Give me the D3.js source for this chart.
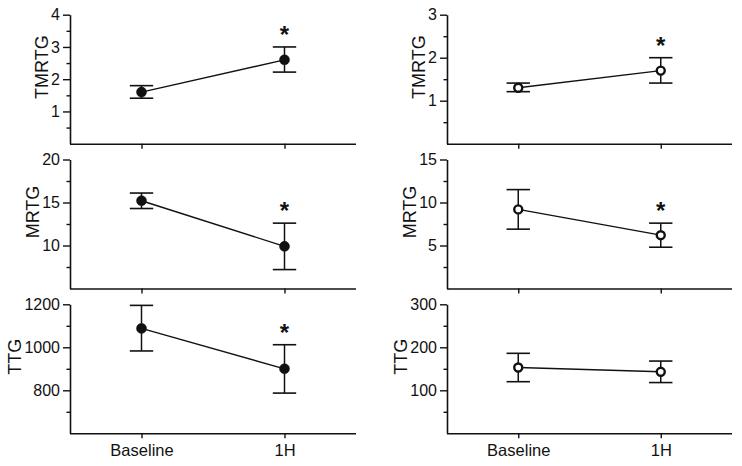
<!DOCTYPE html>
<html>
<head>
<meta charset="utf-8">
<script src="https://cdn.jsdelivr.net/npm/d3@7"></script>
<style>
  html, body { margin: 0; padding: 0; background: #fff; }
  svg { display: block; font-family: Arial, "Liberation Sans", sans-serif; }
</style>
</head>
<body>
<svg id="chart" width="742" height="466"></svg>
<script>
// ---------------- data ----------------
const categories = ["Baseline", "1H"];
const metrics = ["TMRTG", "MRTG", "TTG"];

// left column (filled markers)
const leftMean = [[1.6, 2.6], [15.2, 9.9], [1088, 900]];
const leftLow  = [[1.41, 2.22], [14.3, 7.2], [983, 787]];
const leftHigh = [[1.80, 3.0], [16.1, 12.6], [1195, 1012]];
const leftSig  = [[false, true], [false, true], [false, true]];
const leftDomain = [[0, 4], [5, 20], [600, 1200]];
const leftTicks  = [[1, 2, 3, 4], [10, 15, 20], [800, 1000, 1200]];
const leftMinor  = [[0.5, 1.5, 2.5, 3.5], [7.5, 12.5, 17.5], [700, 900, 1100]];

// right column (open markers)
const rightMean = [[1.3, 1.7], [9.2, 6.2], [153, 143]];
const rightLow  = [[1.21, 1.41], [6.9, 4.8], [120, 118]];
const rightHigh = [[1.41, 2.0], [11.5, 7.6], [186, 168]];
const rightSig  = [[false, true], [false, true], [false, false]];
const rightDomain = [[0, 3], [0, 15], [0, 300]];
const rightTicks  = [[1, 2, 3], [5, 10, 15], [100, 200, 300]];
const rightMinor  = [[0.5, 1.5, 2.5], [2.5, 7.5, 12.5], [50, 150, 250]];

// ---------------- layout ----------------
const svg = d3.select("#chart");
const colX = [[70, 356], [447, 732]];
const rowTop = [14.7, 159.5, 304.3];
const rowH = 129;
const ink = "#111";
const fontFam = "Arial, 'Liberation Sans', sans-serif";

const columns = [
  {mean: leftMean, low: leftLow, high: leftHigh, sig: leftSig, domain: leftDomain, ticks: leftTicks, minor: leftMinor, filled: true},
  {mean: rightMean, low: rightLow, high: rightHigh, sig: rightSig, domain: rightDomain, ticks: rightTicks, minor: rightMinor, filled: false}
];

columns.forEach((col, ci) => {
  const [x0, x1] = colX[ci];
  const x = d3.scalePoint().domain(categories).range([x0, x1]).padding(0.5);
  metrics.forEach((m, ri) => {
    const yTop = rowTop[ri], yBot = yTop + rowH;
    const y = d3.scaleLinear().domain(col.domain[ri]).range([yBot, yTop]);
    const g = svg.append("g");

    // minor y ticks
    g.append("g").attr("transform", `translate(${x0},0)`)
      .call(d3.axisLeft(y).tickValues(col.minor[ri]).tickSize(3.5).tickFormat(""))
      .call(s => s.select(".domain").remove())
      .call(s => s.selectAll("line").attr("stroke", ink).attr("stroke-width", 1.4));

    // major y axis
    const ya = g.append("g").attr("transform", `translate(${x0},0)`)
      .call(d3.axisLeft(y).tickValues(col.ticks[ri]).tickFormat(d3.format("d"))
        .tickSize(7).tickPadding(3).tickSizeOuter(0));
    ya.select(".domain").attr("stroke", ink).attr("stroke-width", 1.6);
    ya.selectAll("line").attr("stroke", ink).attr("stroke-width", 1.4);
    ya.selectAll("text").attr("fill", ink).style("font-size", "16px")
      .style("font-family", fontFam);

    // left edge of the tick labels (title sits just left of them)
    let minX = 0;
    ya.selectAll("text").each(function () {
      minX = Math.min(minX, this.getBBox().x);
    });

    // x axis
    const xa = g.append("g").attr("transform", `translate(0,${yBot})`)
      .call(d3.axisBottom(x).tickSize(5).tickSizeOuter(0).tickPadding(6));
    xa.select(".domain").attr("stroke", ink).attr("stroke-width", 1.6)
      .attr("d", `M${x0},0.5H${x1}`);
    xa.selectAll("line").attr("stroke", ink).attr("stroke-width", 1.4);
    if (ri === metrics.length - 1) {
      xa.selectAll("text").attr("fill", ink).style("font-size", "16.5px")
        .style("font-family", fontFam);
    } else {
      xa.selectAll("text").remove();
    }

    // y title
    g.append("text")
      .attr("transform", `translate(${x0 + minX - 3},${(yTop + yBot) / 2 - 12}) rotate(-90)`)
      .attr("text-anchor", "middle")
      .attr("fill", ink)
      .style("font-size", "18px")
      .style("font-family", fontFam)
      .text(m);

    const pts = categories.map((c, i) => ({
      c, mean: col.mean[ri][i], low: col.low[ri][i], high: col.high[ri][i], sig: col.sig[ri][i]
    }));

    // connecting line
    g.append("path")
      .datum(pts)
      .attr("fill", "none").attr("stroke", ink).attr("stroke-width", 1.4)
      .attr("d", d3.line().x(d => x(d.c)).y(d => y(d.mean)));

    // error bars
    const cap = 11.7;
    const eb = g.selectAll(".eb").data(pts).enter().append("g");
    eb.append("line")
      .attr("x1", d => x(d.c)).attr("x2", d => x(d.c))
      .attr("y1", d => y(d.low)).attr("y2", d => y(d.high))
      .attr("stroke", ink).attr("stroke-width", 1.5);
    eb.append("line")
      .attr("x1", d => x(d.c) - cap).attr("x2", d => x(d.c) + cap)
      .attr("y1", d => y(d.high)).attr("y2", d => y(d.high))
      .attr("stroke", ink).attr("stroke-width", 1.6);
    eb.append("line")
      .attr("x1", d => x(d.c) - cap).attr("x2", d => x(d.c) + cap)
      .attr("y1", d => y(d.low)).attr("y2", d => y(d.low))
      .attr("stroke", ink).attr("stroke-width", 1.6);

    // markers
    g.selectAll(".pt").data(pts).enter().append("circle")
      .attr("cx", d => x(d.c)).attr("cy", d => y(d.mean))
      .attr("r", col.filled ? 5 : 4)
      .attr("fill", col.filled ? ink : "#fff")
      .attr("stroke", ink)
      .attr("stroke-width", col.filled ? 0.5 : 2.4);

    // significance asterisks
    g.selectAll(".sig").data(pts.filter(d => d.sig)).enter().append("text")
      .attr("x", d => x(d.c)).attr("y", d => y(d.high) - 4)
      .attr("text-anchor", "middle")
      .attr("fill", ink)
      .style("font-size", "24px").style("font-weight", "bold")
      .style("font-family", fontFam)
      .text("*");
  });
});
</script>
</body>
</html>
